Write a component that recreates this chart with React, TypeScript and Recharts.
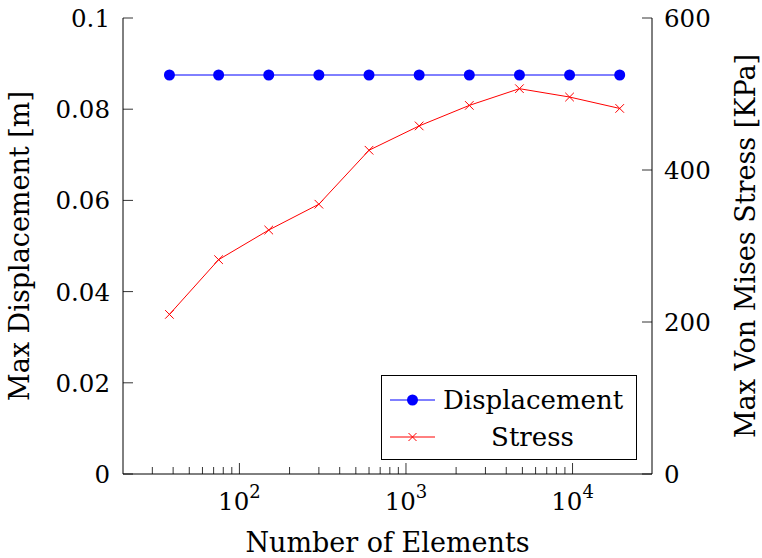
import { LineChart, Line, XAxis, YAxis, Legend } from 'recharts';

const elements = [38, 75, 150, 300, 600, 1200, 2400, 4800, 9600, 19200];
const displacement = [0.0875, 0.0875, 0.0875, 0.0875, 0.0875, 0.0875, 0.0875, 0.0875, 0.0875, 0.0875];
const stress = [210, 282, 321, 355, 426, 458, 485, 507, 496, 481];

const majorX = [100, 1000, 10000];
const minorX = [30, 40, 50, 60, 70, 80, 90, 200, 300, 400, 500, 600, 700, 800, 900, 2000, 3000, 4000, 5000, 6000, 7000, 8000, 9000];
const xTicks = [...minorX, ...majorX].sort((a, b) => a - b);
const dispTicks = [0, 0.02, 0.04, 0.06, 0.08, 0.1];
const dispTickLabels = ['0', '0.02', '0.04', '0.06', '0.08', '0.1'];
const stressTicks = [0, 200, 400, 600];

const data = elements.map((n, i) => ({ n, displacement: displacement[i], stress: stress[i] }));

const FONT = 'DejaVu Serif, Liberation Serif, serif';
const TICK_FS = 24.5;
const FS = 27;
const INK = '#000';

const BottomTick = (props: any) => {
  const { x, y, payload } = props;
  const major = majorX.includes(payload.value);
  return (
    <g>
      <line x1={x} x2={x} y1={y} y2={y - (major ? 11 : 7)} stroke={INK} strokeWidth={0.8} />
      {major && (
        <text x={x} y={y + 36} textAnchor="middle" fontFamily={FONT} fontSize={TICK_FS} fill={INK}>
          10<tspan dy={-12} fontSize={18}>{Math.round(Math.log10(payload.value))}</tspan>
        </text>
      )}
    </g>
  );
};

const TopTick = (props: any) => {
  const { x, y, payload } = props;
  const major = majorX.includes(payload.value);
  return <line x1={x} x2={x} y1={y} y2={y + (major ? 11 : 7)} stroke={INK} strokeWidth={0.8} />;
};

const LeftTick = (props: any) => {
  const { x, y, payload, index } = props;
  return (
    <g>
      <line x1={x} x2={x + 10} y1={y} y2={y} stroke={INK} strokeWidth={0.8} />
      <text x={x - 13} y={y + 9} textAnchor="end" fontFamily={FONT} fontSize={TICK_FS} fill={INK}>
        {dispTickLabels[index] ?? payload.value}
      </text>
    </g>
  );
};

const MirrorTick = (props: any) => {
  const { x, y } = props;
  return <line x1={x - 10} x2={x} y1={y} y2={y} stroke={INK} strokeWidth={0.8} />;
};

const RightTick = (props: any) => {
  const { x, y, payload } = props;
  return (
    <g>
      <line x1={x - 10} x2={x} y1={y} y2={y} stroke={INK} strokeWidth={0.8} />
      <text x={x + 12} y={y + 9} textAnchor="start" fontFamily={FONT} fontSize={TICK_FS} fill={INK}>
        {payload.value}
      </text>
    </g>
  );
};

const CrossDot = (props: any) => {
  const { cx, cy, index } = props;
  const s = 4.3;
  return (
    <path
      key={`x-${index}`}
      d={`M${cx - s},${cy - s}L${cx + s},${cy + s}M${cx - s},${cy + s}L${cx + s},${cy - s}`}
      stroke="#ff0000"
      strokeWidth={1}
      fill="none"
    />
  );
};

const LegendBox = () => {
  const rows = [
    { name: 'Displacement', color: '#0000ff', mark: 'circle' },
    { name: 'Stress', color: '#ff0000', mark: 'cross' },
  ];
  return (
    <div
      style={{
        border: '1px solid #000',
        background: '#fff',
        padding: '5px 0 3px 8px',
        width: 256,
        fontFamily: FONT,
        fontSize: 26,
        color: INK,
        boxSizing: 'border-box',
      }}
    >
      {rows.map((r) => (
        <div key={r.name} style={{ display: 'flex', alignItems: 'center', height: 37.5 }}>
          <svg width={45} height={20} style={{ flex: 'none' }}>
            <line x1={0} x2={45} y1={10} y2={10} stroke={r.color} strokeWidth={1} />
            {r.mark === 'circle' ? (
              <circle cx={22.5} cy={10} r={5.5} fill={r.color} />
            ) : (
              <path d="M18.5,6L26.5,14M18.5,14L26.5,6" stroke={r.color} strokeWidth={1} />
            )}
          </svg>
          <span style={{ width: 179, marginLeft: 8, textAlign: 'center', lineHeight: '30px', whiteSpace: 'nowrap' }}>{r.name}</span>
        </div>
      ))}
    </div>
  );
};

export default function App() {
  return (
    <div style={{ position: 'absolute', left: 0, top: 0, background: '#fff' }}>
      <LineChart width={762} height={558} data={data} margin={{ top: 18, right: 0, bottom: 0, left: 0 }}>
        <XAxis
          xAxisId="bottom"
          dataKey="n"
          type="number"
          scale="log"
          domain={[20, 30000]}
          allowDataOverflow
          ticks={xTicks}
          interval={0}
          height={84}
          tickSize={0}
          tickMargin={0}
          tickLine={false}
          axisLine={{ stroke: INK }}
          tick={<BottomTick />}
          label={{ value: 'Number of Elements', position: 'insideBottom', offset: 6, fill: INK, fontFamily: FONT, fontSize: FS }}
        />
        <XAxis
          xAxisId="top"
          orientation="top"
          dataKey="n"
          type="number"
          scale="log"
          domain={[20, 30000]}
          allowDataOverflow
          ticks={xTicks}
          interval={0}
          height={0}
          tickSize={0}
          tickMargin={0}
          tickLine={false}
          axisLine={{ stroke: INK }}
          tick={<TopTick />}
        />
        <YAxis
          yAxisId="left"
          type="number"
          domain={[0, 0.1]}
          allowDataOverflow
          ticks={dispTicks}
          interval={0}
          width={123}
          tickSize={0}
          tickMargin={0}
          tickLine={false}
          axisLine={{ stroke: INK }}
          tick={<LeftTick />}
          label={{ value: 'Max Displacement [m]', angle: -90, position: 'insideLeft', offset: 19, fill: INK, fontFamily: FONT, fontSize: FS, style: { textAnchor: 'middle' } }}
        />
        <YAxis
          yAxisId="mirror"
          orientation="right"
          type="number"
          domain={[0, 0.1]}
          allowDataOverflow
          ticks={[0.02, 0.04, 0.06, 0.08]}
          interval={0}
          width={0}
          tickSize={0}
          tickMargin={0}
          tickLine={false}
          axisLine={false}
          tick={<MirrorTick />}
        />
        <YAxis
          yAxisId="right"
          orientation="right"
          type="number"
          domain={[0, 600]}
          allowDataOverflow
          ticks={stressTicks}
          interval={0}
          width={110}
          tickSize={0}
          tickMargin={0}
          tickLine={false}
          axisLine={{ stroke: INK }}
          tick={<RightTick />}
          label={{ value: 'Max Von Mises Stress [KPa]', angle: -90, position: 'insideRight', offset: 17, fill: INK, fontFamily: FONT, fontSize: FS, style: { textAnchor: 'middle' } }}
        />
        <Line
          xAxisId="top"
          yAxisId="left"
          dataKey="displacement"
          name="Displacement"
          stroke="#0000ff"
          strokeWidth={1}
          dot={{ r: 5.5, fill: '#0000ff', stroke: 'none' }}
          isAnimationActive={false}
        />
        <Line
          xAxisId="bottom"
          yAxisId="right"
          dataKey="stress"
          name="Stress"
          stroke="#ff0000"
          strokeWidth={1}
          dot={<CrossDot />}
          isAnimationActive={false}
        />
        <Legend
          layout="vertical"
          align="center"
          verticalAlign="middle"
          content={<LegendBox />}
          wrapperStyle={{ left: 381, top: 375, width: 256, right: 'auto', bottom: 'auto' }}
        />
      </LineChart>
    </div>
  );
}
